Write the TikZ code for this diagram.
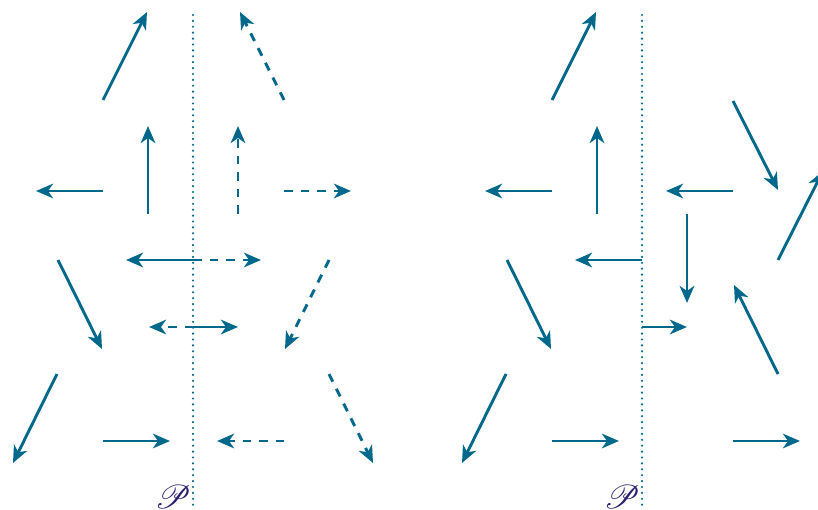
\documentclass[tikz,border=0pt]{standalone}
\usepackage{mathrsfs}
\usetikzlibrary{arrows.meta}
\definecolor{vec}{RGB}{0,104,139}
\definecolor{lbl}{RGB}{45,30,110}
\tikzset{
  vecarrow/.style={draw=vec, line width=2.9pt, -{Stealth[length=17pt,width=14.5pt,inset=5pt]}},
  dashvec/.style={vecarrow, dash pattern=on 8.5pt off 8pt},
  plane/.style={draw=vec, line width=2.4pt, line cap=round, dash pattern=on 0pt off 5.9pt},
  plabel/.style={text=lbl, inner sep=0pt}
}
\begin{document}
\begin{tikzpicture}[x=1pt,y=-1pt]
\useasboundingbox (0,0) rectangle (818,510);
% ---------- left panel ----------
\draw[plane] (193,15) -- (193,510);
\node[plabel] (P1) at (173,497) {\scalebox{3.3}{$\mathscr{P}$}};
\draw[vecarrow] (103,100) -- (147,12);
\draw[dashvec] (284,100) -- (240,12);
\draw[vecarrow] (148,214) -- (148,126);
\draw[dashvec] (238,214) -- (238,126);
\draw[vecarrow] (103,191) -- (36,191);
\draw[dashvec] (284,191) -- (351,191);
\draw[vecarrow] (193,260) -- (126,260);
\draw[dashvec] (193,260) -- (261,260);
\draw[dashvec] (193,327) -- (149,327);
\draw[vecarrow] (193,327) -- (238,327);
\draw[vecarrow] (58,260) -- (102,349);
\draw[dashvec] (329,260) -- (285,349);
\draw[vecarrow] (57,374) -- (13,463);
\draw[dashvec] (329,374) -- (373,463);
\draw[vecarrow] (103,441) -- (170,441);
\draw[dashvec] (284,441) -- (217,441);
% ---------- right panel ----------
\draw[plane] (642,15) -- (642,510);
\node[plabel] (P2) at (622,497) {\scalebox{3.3}{$\mathscr{P}$}};
\draw[vecarrow] (552,100) -- (596,12);
\draw[vecarrow] (733,101) -- (778,190);
\draw[vecarrow] (597,214) -- (597,126);
\draw[vecarrow] (733,191) -- (666,191);
\draw[vecarrow] (552,191) -- (485,191);
\draw[vecarrow] (687,214) -- (687,303);
\draw[vecarrow] (642,260) -- (575,260);
\draw[vecarrow] (642,327) -- (687,327);
\draw[vecarrow] (507,260) -- (551,349);
\draw[vecarrow] (778,260) -- (823,171);
\draw[vecarrow] (778,374) -- (734,285);
\draw[vecarrow] (506,374) -- (462,463);
\draw[vecarrow] (552,441) -- (619,441);
\draw[vecarrow] (733,441) -- (800,441);
\end{tikzpicture}
\end{document}
